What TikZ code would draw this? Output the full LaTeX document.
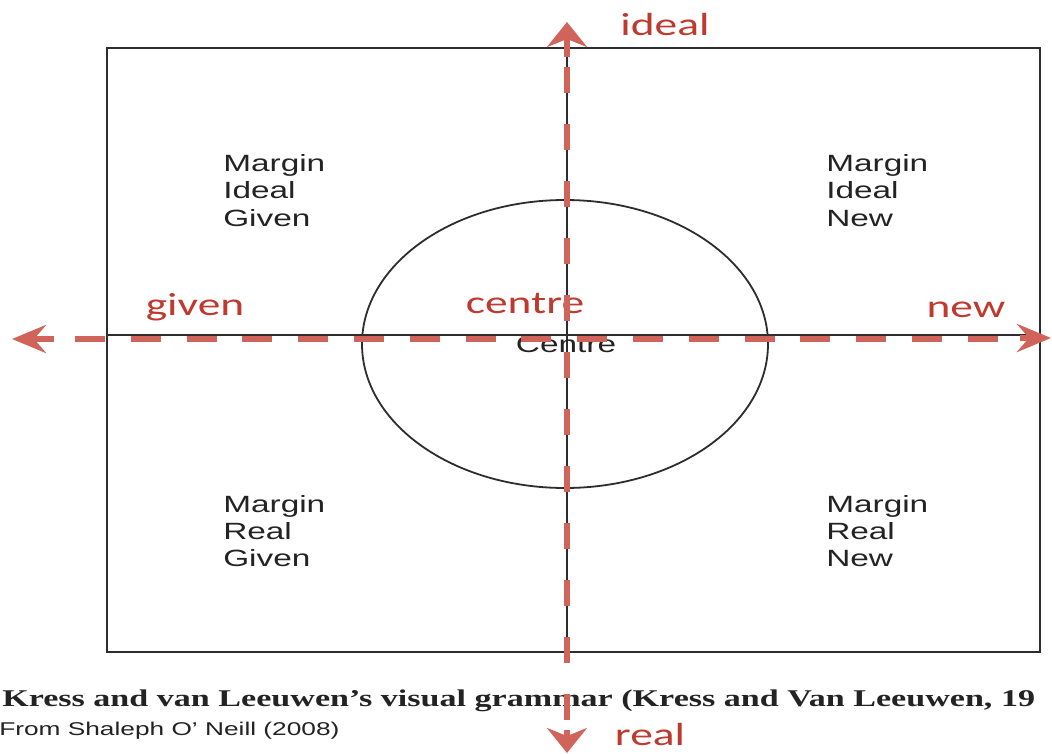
\documentclass[tikz,border=0pt]{standalone}
\usepackage{fontspec}
\setmainfont{Liberation Serif}
\newfontfamily\arialf{Liberation Sans}
\newfontfamily\calf{Carlito}
\usetikzlibrary{arrows.meta}
\definecolor{arrowred}{RGB}{208,100,90}
\definecolor{labelred}{RGB}{190,58,46}
\definecolor{linegray}{RGB}{45,45,45}
\definecolor{textgray}{RGB}{35,35,35}
\begin{document}
\begin{tikzpicture}[x=1pt,y=-1pt,
  frame/.style={draw=linegray, line width=1.8pt},
  axisline/.style={draw=linegray, line width=1.6pt},
  dashaxis/.style={draw=arrowred, line width=6.5pt},
  hdash/.style={dashaxis, dash pattern=on 30pt off 25.8pt},
  vdash/.style={dashaxis, line width=6pt, dash pattern=on 26pt off 31pt},
  hhead/.style={dashaxis, -{Stealth[length=34pt,width=28pt,inset=12pt]}},
  vhead/.style={dashaxis, line width=6pt, -{Stealth[length=25pt,width=40pt,inset=8pt]}},
  quad/.style={inner sep=0pt, anchor=base west, text=textgray, xscale=1.42,
    font=\arialf\fontsize{23.5}{27}\selectfont},
  dirlabel/.style={inner sep=0pt, anchor=base, text=labelred, xscale=1.42,
    font=\calf\fontsize{32}{36}\selectfont},
  capline/.style={inner sep=0pt, anchor=base west, text=textgray, xscale=1.42}
]
\useasboundingbox[fill=white] (0,0) rectangle (1052,754);

% frame and axes
\coordinate (boxNW) at (107,48);
\coordinate (boxSE) at (1040,652);
\draw[frame] (boxNW) rectangle (boxSE);
\coordinate (vtop) at (567,48);
\coordinate (vbot) at (567,652);
\coordinate (hleft) at (107,335);
\coordinate (hright) at (1040,335);
\draw[axisline] (vtop) -- (vbot);
\draw[axisline] (hleft) -- (hright);
\draw[frame] (565,344) ellipse [x radius=203pt, y radius=144pt];

% quadrant texts
\node[quad] (ig1) at (223,172) {Margin};
\node[quad] (ig2) at (223,199) {Ideal};
\node[quad] (ig3) at (223,226) {Given};
\node[quad] (in1) at (826,172) {Margin};
\node[quad] (in2) at (826,199) {Ideal};
\node[quad] (in3) at (826,226) {New};
\node[quad] (rg1) at (223,512) {Margin};
\node[quad] (rg2) at (223,539) {Real};
\node[quad] (rg3) at (223,566) {Given};
\node[quad] (rn1) at (826,512) {Margin};
\node[quad] (rn2) at (826,539) {Real};
\node[quad] (rn3) at (826,566) {New};
\node[quad, anchor=base] (centreb) at (566,352) {Centre};

% caption
\node[capline, font=\bfseries\fontsize{24}{28}\selectfont] (cap1) at (2,706)
  {Kress and van Leeuwen’s visual grammar (Kress and Van Leeuwen, 19};
\node[capline, font=\arialf\fontsize{18.5}{22}\selectfont] (cap2) at (-1,735)
  {From Shaleph O’ Neill (2008)};

% red labels
\node[dirlabel] (lideal) at (665,36) {ideal};
\node[dirlabel] (lgiven) at (195,315) {given};
\node[dirlabel] (lcentre) at (525,313) {centre};
\node[dirlabel] (lnew) at (966,317) {new};
\node[dirlabel] (lreal) at (650,745) {real};

% red dashed axes
\coordinate (hdA) at (75,339);
\coordinate (hdB) at (1000,339);
\draw[hdash] (hdA) -- (hdB);
\coordinate (lhS) at (54,339);
\coordinate (lhT) at (12,339);
\draw[hhead] (lhS) -- (lhT);
\coordinate (rhS) at (1020,338);
\coordinate (rhT) at (1051,338);
\draw[hhead] (rhS) -- (rhT);

\coordinate (vdA) at (567,67);
\coordinate (vdB) at (567,722);
\draw[vdash] (vdA) -- (vdB);
\coordinate (thS) at (567,57);
\coordinate (thT) at (567,22);
\draw[vhead] (thS) -- (thT);
\coordinate (bhS) at (567,730);
\coordinate (bhT) at (567,753);
\draw[vhead] (bhS) -- (bhT);
\end{tikzpicture}
\end{document}
